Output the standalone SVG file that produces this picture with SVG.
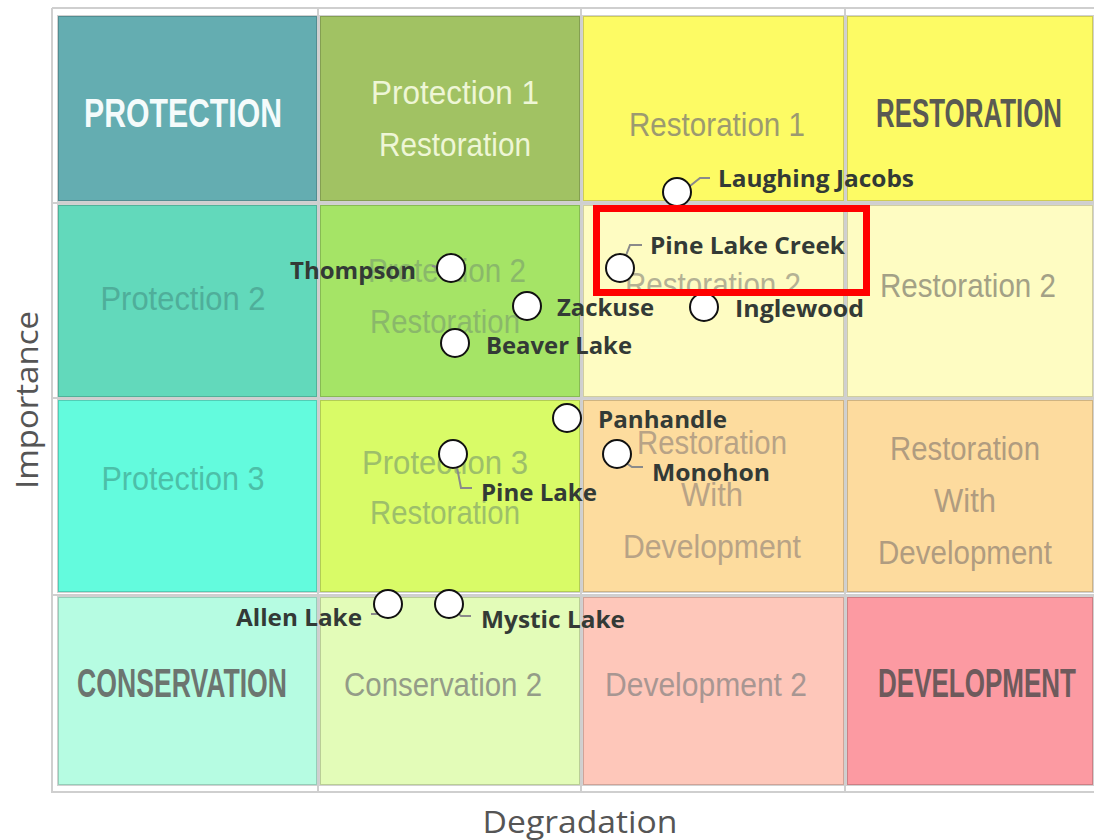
<svg xmlns="http://www.w3.org/2000/svg" width="1094" height="840" viewBox="0 0 1094 840">
<defs>
<style>
.cell{stroke:rgba(0,0,0,0.18);stroke-width:2}
.grid{stroke:#cfcfcf;stroke-width:2;fill:none}
.cl{font-family:"Liberation Sans Narrow","Liberation Sans",Arial,sans-serif;text-anchor:middle;font-size:34px}
.cb{font-family:"Liberation Sans Narrow","Liberation Sans",Arial,sans-serif;text-anchor:middle;font-size:40px;font-weight:bold}
.pt{fill:#ffffff;stroke:#111;stroke-width:2}
.ld{stroke:#8a8a8a;stroke-width:2;fill:none}
.nl{font-family:"Open Sans","Liberation Sans",Arial,sans-serif;font-weight:bold;font-size:24px;fill:#333a36}
.ax{font-family:"Open Sans","Liberation Sans",Arial,sans-serif;font-size:31px;fill:#555;text-anchor:middle}
</style>
</defs>
<rect x="0" y="0" width="1094" height="840" fill="#ffffff"/>
<g id="cells">
<rect class="cell" x="58" y="16" width="259" height="185" fill="#64adb1"/>
<rect class="cell" x="320" y="16" width="260" height="185" fill="#a1c263"/>
<rect class="cell" x="583" y="16" width="261" height="185" fill="#fdfb64"/>
<rect class="cell" x="847" y="16" width="246" height="185" fill="#fdfb64"/>
<rect class="cell" x="58" y="205" width="259" height="192" fill="#62d9bb"/>
<rect class="cell" x="320" y="205" width="260" height="192" fill="#a5e466"/>
<rect class="cell" x="583" y="205" width="261" height="192" fill="#fefcc2"/>
<rect class="cell" x="847" y="205" width="246" height="192" fill="#fefcc2"/>
<rect class="cell" x="58" y="400" width="259" height="192" fill="#63fbdd"/>
<rect class="cell" x="320" y="400" width="260" height="192" fill="#d9fb67"/>
<rect class="cell" x="583" y="400" width="261" height="192" fill="#fddc9e"/>
<rect class="cell" x="847" y="400" width="246" height="192" fill="#fddb9e"/>
<rect class="cell" x="58" y="597" width="259" height="188" fill="#b6fce2"/>
<rect class="cell" x="320" y="597" width="260" height="188" fill="#e3fcb8"/>
<rect class="cell" x="583" y="597" width="261" height="188" fill="#fec7ba"/>
<rect class="cell" x="847" y="597" width="246" height="188" fill="#fc9aa2"/>
</g>
<g id="grid">
<path class="grid" d="M52 8H1094M52 8V792H1094M318 8V792M581 8V792M845 8V792M52 203H1094M52 398H1094M52 595H1094"/>
</g>
<g id="cell-labels">
<text class="cb" x="183" y="127" font-size="44" fill="#f4fbfb" textLength="198" lengthAdjust="spacingAndGlyphs">PROTECTION</text>
<text class="cl" x="455" y="104" fill="#eef6d6" textLength="168" lengthAdjust="spacingAndGlyphs">Protection  1</text>
<text class="cl" x="455" y="156" fill="#eef6d6" textLength="152" lengthAdjust="spacingAndGlyphs">Restoration</text>
<text class="cl" x="717" y="136" fill="#9c9a70" textLength="176" lengthAdjust="spacingAndGlyphs">Restoration 1</text>
<text class="cb" x="969" y="127" fill="#5a5a52" textLength="186" lengthAdjust="spacingAndGlyphs">RESTORATION</text>
<text class="cl" x="183" y="310" fill="#4fae9a" textLength="165" lengthAdjust="spacingAndGlyphs">Protection 2</text>
<text class="cl" x="447" y="282" fill="#8ab86a" textLength="158" lengthAdjust="spacingAndGlyphs">Protection 2</text>
<text class="cl" x="445" y="333" fill="#8ab86a" textLength="150" lengthAdjust="spacingAndGlyphs">Restoration</text>
<text class="cl" x="713" y="296" fill="#b4b294" textLength="176" lengthAdjust="spacingAndGlyphs">Restoration 2</text>
<text class="cl" x="968" y="297" fill="#a3a186" textLength="176" lengthAdjust="spacingAndGlyphs">Restoration 2</text>
<text class="cl" x="183" y="490" fill="#4cbfa8" textLength="163" lengthAdjust="spacingAndGlyphs">Protection 3</text>
<text class="cl" x="445" y="474" fill="#9dbf6a" textLength="166" lengthAdjust="spacingAndGlyphs">Protection  3</text>
<text class="cl" x="445" y="524" fill="#9dbf6a" textLength="150" lengthAdjust="spacingAndGlyphs">Restoration</text>
<text class="cl" x="712" y="454" fill="#b8a386" textLength="150" lengthAdjust="spacingAndGlyphs">Restoration</text>
<text class="cl" x="712" y="506" fill="#b8a386" textLength="62" lengthAdjust="spacingAndGlyphs">With</text>
<text class="cl" x="712" y="558" fill="#b8a386" textLength="178" lengthAdjust="spacingAndGlyphs">Development</text>
<text class="cl" x="965" y="460" fill="#b09c80" textLength="150" lengthAdjust="spacingAndGlyphs">Restoration</text>
<text class="cl" x="965" y="512" fill="#b09c80" textLength="62" lengthAdjust="spacingAndGlyphs">With</text>
<text class="cl" x="965" y="564" fill="#b09c80" textLength="174" lengthAdjust="spacingAndGlyphs">Development</text>
<text class="cb" x="182" y="697" font-size="38" fill="#6c7570" textLength="210" lengthAdjust="spacingAndGlyphs">CONSERVATION</text>
<text class="cl" x="443" y="696" fill="#949c88" textLength="198" lengthAdjust="spacingAndGlyphs">Conservation 2</text>
<text class="cl" x="706" y="696" fill="#a89692" textLength="202" lengthAdjust="spacingAndGlyphs">Development 2</text>
<text class="cb" x="977" y="697" font-size="38" fill="#6e5a5c" textLength="198" lengthAdjust="spacingAndGlyphs">DEVELOPMENT</text>
</g>
<g id="connectors">
<path class="ld" d="M675 198L700 178H710"/>
<path class="ld" d="M620 271L630 245H642"/>
<path class="ld" d="M432 266L450 269"/>
<path class="ld" d="M455 457L461 488H472"/>
<path class="ld" d="M619 458L632 467H643"/>
<path class="ld" d="M387 606L380 614H371"/>
<path class="ld" d="M449 606L461 616H471"/>
</g>
<g id="node-laughing-jacobs"><circle class="pt" cx="677" cy="192" r="14"/><text class="nl" x="718" y="187" textLength="196" lengthAdjust="spacingAndGlyphs">Laughing Jacobs</text></g>
<g id="node-pine-lake-creek"><circle class="pt" cx="620" cy="268" r="14"/><text class="nl" x="650" y="254" textLength="195" lengthAdjust="spacingAndGlyphs">Pine Lake Creek</text></g>
<g id="node-thompson"><circle class="pt" cx="451" cy="268" r="14"/><text class="nl" x="290" y="279" textLength="126" lengthAdjust="spacingAndGlyphs">Thompson</text></g>
<g id="node-zackuse"><circle class="pt" cx="527" cy="306" r="14"/><text class="nl" x="557" y="316" textLength="97" lengthAdjust="spacingAndGlyphs">Zackuse</text></g>
<g id="node-inglewood"><circle class="pt" cx="704" cy="307" r="14"/><text class="nl" x="735" y="317" textLength="129" lengthAdjust="spacingAndGlyphs">Inglewood</text></g>
<g id="node-beaver-lake"><circle class="pt" cx="455" cy="343" r="14"/><text class="nl" x="486" y="354" textLength="146" lengthAdjust="spacingAndGlyphs">Beaver Lake</text></g>
<g id="node-panhandle"><circle class="pt" cx="567" cy="418" r="14"/><text class="nl" x="598" y="428" textLength="129" lengthAdjust="spacingAndGlyphs">Panhandle</text></g>
<g id="node-monohon"><circle class="pt" cx="617" cy="454" r="14"/><text class="nl" x="652" y="481" textLength="118" lengthAdjust="spacingAndGlyphs">Monohon</text></g>
<g id="node-pine-lake"><circle class="pt" cx="453" cy="454" r="14"/><text class="nl" x="481" y="501" textLength="116" lengthAdjust="spacingAndGlyphs">Pine Lake</text></g>
<g id="node-allen-lake"><circle class="pt" cx="388" cy="604" r="14"/><text class="nl" x="236" y="626" textLength="126" lengthAdjust="spacingAndGlyphs">Allen Lake</text></g>
<g id="node-mystic-lake"><circle class="pt" cx="449" cy="604" r="14"/><text class="nl" x="481" y="628" textLength="144" lengthAdjust="spacingAndGlyphs">Mystic Lake</text></g>
<rect id="highlight" x="596.5" y="208.5" width="270" height="84" fill="none" stroke="#ff0000" stroke-width="7"/>
<text class="ax" x="580" y="833" textLength="195" lengthAdjust="spacingAndGlyphs">Degradation</text>
<text class="ax" transform="translate(38 400) rotate(-90)" x="0" y="0" textLength="178" lengthAdjust="spacingAndGlyphs">Importance</text>
</svg>
